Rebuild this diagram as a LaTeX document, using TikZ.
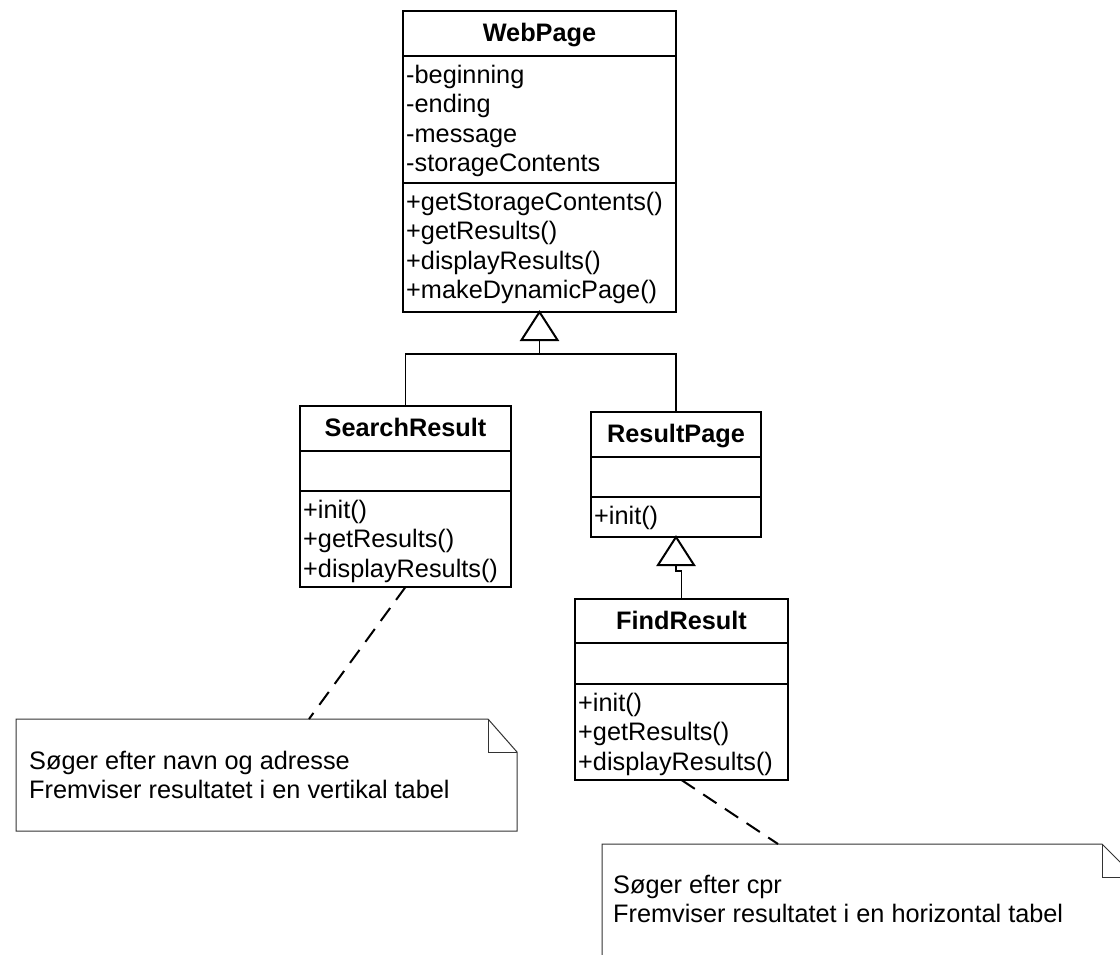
\documentclass[tikz,border=0pt]{standalone}
\usepackage{fontspec}
\setmainfont{Liberation Sans}
\begin{document}
\begin{tikzpicture}[x=1pt,y=-1pt,
  box/.style={draw=black, line width=2pt, fill=white, rectangle, inner sep=0pt, outer sep=0pt},
  sep/.style={line width=2pt},
  title/.style={font=\fontsize{25.3}{29.5}\selectfont\bfseries, inner sep=0pt, anchor=base},
  member/.style={font=\fontsize{25.3}{29.5}\selectfont, inner sep=0pt, anchor=base west},
  notetext/.style={font=\fontsize{25.3}{29.5}\selectfont, inner sep=0pt, anchor=base west},
  gen/.style={line width=1.5pt},
  tri/.style={draw=black, line width=2pt, fill=white, line join=miter},
  noteframe/.style={rectangle, inner sep=0pt, outer sep=0pt},
  noteline/.style={draw=black!80, line width=1pt, fill=white},
  attach/.style={line width=2pt, dash pattern=on 16pt off 10pt}
]
\clip (0,0) rectangle (1120,954);
\fill[white] (0,0) rectangle (1120,954);

% ---------- class boxes ----------
\node[box, minimum width=273pt, minimum height=301pt] (webpage) at (539.5,161.5) {};
\draw[sep] (403,56) -- (676,56);
\draw[sep] (403,183) -- (676,183);
\node[title] (wpt) at (539.5,41) {WebPage};
\foreach \t [count=\i] in {-beginning,-ending,-message,-storageContents}
  \node[member] (wpa\i) at (406,{83+29.5*(\i-1)}) {\t};
\foreach \t [count=\i] in {+getStorageContents(),+getResults(),+displayResults(),+makeDynamicPage()}
  \node[member] (wpm\i) at (406,{210+29.5*(\i-1)}) {\t};

\node[box, minimum width=211pt, minimum height=181pt] (search) at (405.5,496.5) {};
\draw[sep] (300,451) -- (511,451);
\draw[sep] (300,491) -- (511,491);
\node[title] (srt) at (405.5,436) {SearchResult};
\foreach \t [count=\i] in {+init(),+getResults(),+displayResults()}
  \node[member] (srm\i) at (303,{518+29.5*(\i-1)}) {\t};

\node[box, minimum width=170pt, minimum height=125pt] (resultpage) at (676,474.5) {};
\draw[sep] (591,457) -- (761,457);
\draw[sep] (591,497) -- (761,497);
\node[title] (rpt) at (676,442) {ResultPage};
\node[member] (rpm1) at (594,524) {+init()};

\node[box, minimum width=213pt, minimum height=181pt] (find) at (681.5,689.5) {};
\draw[sep] (575,643) -- (788,643);
\draw[sep] (575,684) -- (788,684);
\node[title] (frt) at (681.5,629) {FindResult};
\foreach \t [count=\i] in {+init(),+getResults(),+displayResults()}
  \node[member] (frm\i) at (578,{711+29.5*(\i-1)}) {\t};

% ---------- generalization: SearchResult, ResultPage -> WebPage ----------
\path (webpage.south) ++(0,28) coordinate (wpbase);
\draw[gen] (search.north) -- ++(0,-52) -| (resultpage.north);
\draw[gen] (wpbase) -- ++(0,14);
\draw[tri] (webpage.south) -- ++(-18,28) -- ++(36,0) -- cycle;

% ---------- generalization: FindResult -> ResultPage ----------
\path (resultpage.south) ++(0,28) coordinate (rpbase);
\draw[gen] (find.north) -- ++(0,-28) -| (rpbase);
\draw[tri] (resultpage.south) -- ++(-18,28) -- ++(36,0) -- cycle;

% ---------- notes ----------
\node[noteframe, minimum width=501pt, minimum height=112pt] (note1) at (266.5,775) {};
\draw[noteline] (note1.north west) -- ([xshift=-29pt]note1.north east)
  -- ([yshift=-33pt]note1.north east) -- (note1.south east) -- (note1.south west) -- cycle;
\draw[noteline, fill=none] ([xshift=-29pt]note1.north east) -- ([xshift=-29pt,yshift=-33pt]note1.north east)
  -- ([yshift=-33pt]note1.north east);
\node[notetext] (n1a) at (29,769) {Søger efter navn og adresse};
\node[notetext] (n1b) at (29,798) {Fremviser resultatet i en vertikal tabel};

\node[noteframe, minimum width=533pt, minimum height=140pt] (note2) at (868.5,914) {};
\draw[noteline] (note2.north west) -- ([xshift=-33pt]note2.north east)
  -- ([yshift=-33pt]note2.north east) -- (note2.south east) -- (note2.south west) -- cycle;
\draw[noteline, fill=none] ([xshift=-33pt]note2.north east) -- ([xshift=-33pt,yshift=-33pt]note2.north east)
  -- ([yshift=-33pt]note2.north east);
\node[notetext] (n2a) at (613,893) {Søger efter cpr};
\node[notetext] (n2b) at (613,922) {Fremviser resultatet i en horizontal tabel};

% ---------- note attachments ----------
\coordinate (note1pin) at (309,719);
\coordinate (note2pin) at (778,844);
\draw[attach] (search.south) -- (note1pin);
\draw[attach] (find.south) -- (note2pin);
\end{tikzpicture}
\end{document}
